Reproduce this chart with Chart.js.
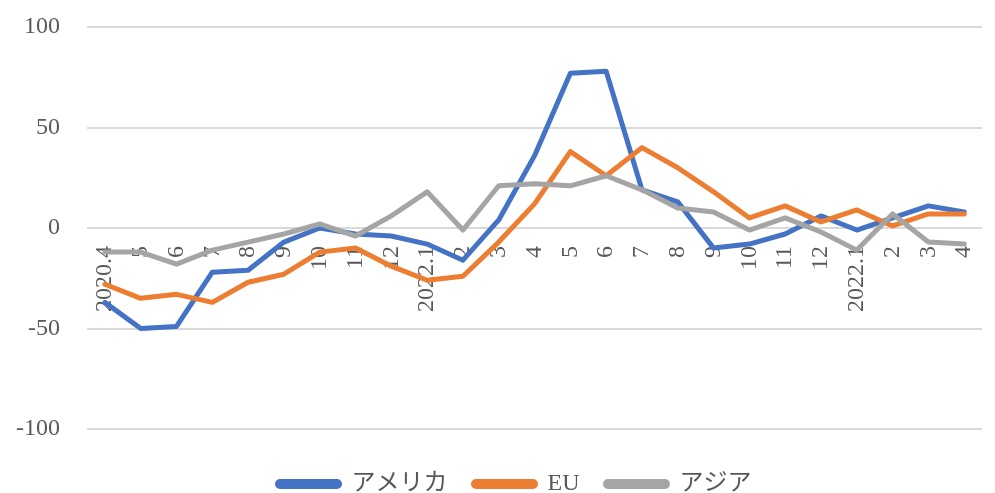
<!DOCTYPE html>
<html>
<head>
<meta charset="utf-8">
<script src="https://cdn.jsdelivr.net/npm/chart.js@4/dist/chart.umd.min.js"></script>
<style>
    html, body { margin: 0; padding: 0; background: #fff; overflow: hidden; }
    #wrap { width: 1003px; height: 493px; }
</style>
</head>
<body>
<div id="wrap"><canvas id="chart"></canvas></div>
<script>
// Month labels as printed on the axis
const labels = ['2020.4', '5', '6', '7', '8', '9', '10', '11', '12', '2022.1', '2', '3',
    '4', '5', '6', '7', '8', '9', '10', '11', '12', '2022.1', '2', '3', '4'];

// Series values
const america = [-37, -50, -49, -22, -21, -7, 0, -3, -4, -8, -16, 4,
    36, 77, 78, 19, 13, -10, -8, -3, 6, -1, 5, 11, 8];
const eu = [-28, -35, -33, -37, -27, -23, -12, -10, -19, -26, -24, -7,
    12, 38, 26, 40, 30, 18, 5, 11, 3, 9, 1, 7, 7];
const asia = [-12, -12, -18, -11, -7, -3, 2, -4, 6, 18, -1, 21,
    22, 21, 26, 19, 10, 8, -1, 5, -2, -11, 7, -7, -8];

const fontFamily = "'Liberation Serif', 'Noto Sans CJK JP', serif";
const textColor = '#595959';

function makeSeries(label, data, color, order) {
    return {
        label,
        data,
        borderColor: color,
        backgroundColor: color,
        borderWidth: 5,
        pointRadius: 0,
        tension: 0,
        borderJoinStyle: 'round',
        borderCapStyle: 'round',
        order
    };
}

// nudge the legend row down / right, like the excel layout
const legendShift = {
    id: 'legendShift',
    afterLayout(chart) {
        const lg = chart.legend;
        if (!lg) return;
        lg.left += 13;
        lg.right += 13;
        lg.top += 17;
        lg.bottom += 17;
    }
};

const ctx = document.getElementById('chart').getContext('2d');
new Chart(ctx, {
    type: 'line',
    data: {
        labels,
        datasets: [
            makeSeries('アメリカ', america, '#4472C4', 3),
            makeSeries('EU', eu, '#ED7D31', 2),
            makeSeries('アジア', asia, '#A5A5A5', 1)
        ]
    },
    options: {
        responsive: true,
        maintainAspectRatio: false,
        animation: false,
        layout: {
            padding: { left: 0, right: 0, top: 27, bottom: 4 }
        },
        plugins: {
            tooltip: { enabled: false },
            legend: {
                position: 'bottom',
                labels: {
                    boxWidth: 62,
                    boxHeight: 5,
                    useBorderRadius: true,
                    borderRadius: 2.5,
                    padding: 26,
                    color: textColor,
                    font: { family: fontFamily, size: 24 },
                    sort: (a, b) => a.datasetIndex - b.datasetIndex
                }
            }
        },
        scales: {
            x: {
                position: { y: 0 },
                offset: true,
                grid: { display: false },
                border: { display: false },
                ticks: {
                    autoSkip: false,
                    minRotation: 90,
                    maxRotation: 90,
                    padding: 10,
                    color: textColor,
                    font: { family: fontFamily, size: 24 }
                }
            },
            y: {
                min: -100,
                max: 100,
                afterFit: (scale) => {
                    scale.width = 87;
                    scale.paddingTop = 0;
                    scale.paddingBottom = 0;
                },
                grid: { color: '#D9D9D9', lineWidth: 2, drawTicks: false },
                border: { display: false },
                ticks: {
                    stepSize: 50,
                    padding: 27,
                    color: textColor,
                    font: { family: fontFamily, size: 24 }
                }
            }
        }
    },
    plugins: [legendShift]
});
</script>
</body>
</html>
